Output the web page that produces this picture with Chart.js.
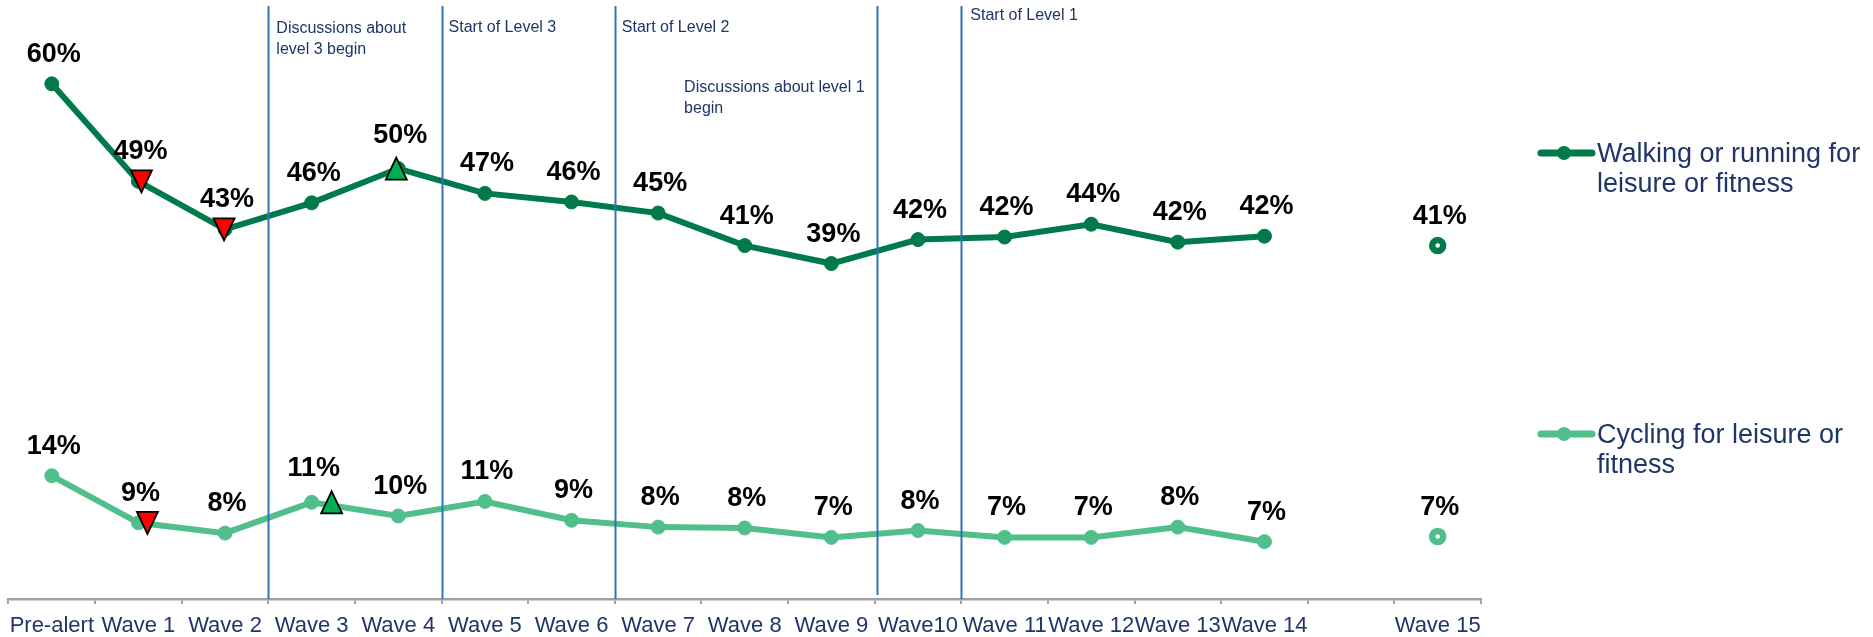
<!DOCTYPE html>
<html>
<head>
<meta charset="utf-8">
<title>Leisure activity by wave</title>
<script src="https://cdn.jsdelivr.net/npm/chart.js@4.4.1/dist/chart.umd.min.js"></script>
<style>
  html, body { margin: 0; padding: 0; background: #ffffff; }
  canvas { display: block; }
</style>
</head>
<body>
<canvas id="waveChart" width="1873" height="637"></canvas>
<script>
// Categories (empty slot between Wave 14 and Wave 15)
const waves = ['Pre-alert', 'Wave 1', 'Wave 2', 'Wave 3', 'Wave 4', 'Wave 5', 'Wave 6', 'Wave 7',
  'Wave 8', 'Wave 9', 'Wave10', 'Wave 11', 'Wave 12', 'Wave 13', 'Wave 14', '', 'Wave 15'];

// Percentages
const walking = [60.2, 48.8, 43.2, 46.3, 50.3, 47.4, 46.4, 45.1, 41.3, 39.2, 42.0, 42.3, 43.8, 41.7, 42.4, null, 41.3];
const cycling = [14.4, 8.9, 7.7, 11.3, 9.7, 11.4, 9.2, 8.4, 8.3, 7.2, 8.0, 7.2, 7.2, 8.4, 6.7, null, 7.3];

// Significant change vs previous wave
const walkingChange = [null, 'down', 'down', null, 'up', null, null, null, null, null, null, null, null, null, null, null, null];
const cyclingChange = [null, 'down', null, 'up', null, null, null, null, null, null, null, null, null, null, null, null, null];

// Phase markers (category positions) and their notes
const phaseBreaks = [2.5, 4.5, 6.5, 9.53, 10.5];
const noteText = [
  ['Discussions about', 'level 3 begin'],
  ['Start of Level 3'],
  ['Start of Level 2'],
  ['Discussions about level 1', 'begin'],
  ['Start of Level 1']
];
const noteAt = [2.5, 4.5, 6.5, 7.3, 10.5];

const seriesNames = [['Walking or running for', 'leisure or fitness'], ['Cycling for leisure or', 'fitness']];

const darkGreen = '#007a4a';
const lightGreen = '#50bf8c';
const navy = '#1f3468';
const lastIdx = waves.length - 1;

// layout bits for the overlay drawing
const noteLayout = [
  { dx: 8, y: 33 }, { dx: 7, y: 32 }, { dx: 7, y: 32 }, { dx: 0, y: 92 }, { dx: 9, y: 20 }
];
const changeShift = [{ 1: 3, 2: -1, 4: -2 }, { 1: 9, 3: 20 }];
const legendRows = [153, 434];

function xAt(chart, v) {
  const x = chart.scales.x;
  const step = x.getPixelForValue(1) - x.getPixelForValue(0);
  return x.getPixelForValue(0) + v * step;
}

function triangle(ctx, x, y, dir) {
  const w = 21, h = 22;
  ctx.beginPath();
  if (dir === 'down') {
    ctx.moveTo(x - w / 2, y - h / 2);
    ctx.lineTo(x + w / 2, y - h / 2);
    ctx.lineTo(x, y + h / 2);
  } else {
    ctx.moveTo(x - w / 2, y + h / 2);
    ctx.lineTo(x + w / 2, y + h / 2);
    ctx.lineTo(x, y - h / 2);
  }
  ctx.closePath();
  ctx.fillStyle = dir === 'down' ? '#ff0000' : '#00b050';
  ctx.fill();
  ctx.lineWidth = 1.8;
  ctx.strokeStyle = '#000000';
  ctx.stroke();
}

const overlay = {
  id: 'overlay',
  afterDatasetsDraw(chart) {
    const ctx = chart.ctx;
    const area = chart.chartArea;
    ctx.save();

    // phase lines
    ctx.strokeStyle = '#2e75b6';
    ctx.lineWidth = 2;
    phaseBreaks.forEach((b, i) => {
      const x = Math.round(xAt(chart, b)) + 0.5;
      ctx.beginPath();
      ctx.moveTo(x, 6);
      ctx.lineTo(x, i === 3 ? area.bottom - 4 : area.bottom);
      ctx.stroke();
    });

    // notes
    ctx.fillStyle = navy;
    ctx.font = '16px "Liberation Sans", Arial, sans-serif';
    ctx.textAlign = 'left';
    ctx.textBaseline = 'alphabetic';
    noteText.forEach((lines, i) => {
      const x = xAt(chart, noteAt[i]) + noteLayout[i].dx;
      lines.forEach((t, j) => ctx.fillText(t, x, noteLayout[i].y + j * 21));
    });

    // change markers and value labels
    const changes = [walkingChange, cyclingChange];
    chart.data.datasets.forEach((ds, d) => {
      const meta = chart.getDatasetMeta(d);
      meta.data.forEach((pt, i) => {
        if (ds.data[i] == null) return;
        const c = changes[d][i];
        if (c) triangle(ctx, pt.x + (changeShift[d][i] || 0), pt.y, c);
      });
      ctx.fillStyle = '#000000';
      ctx.font = 'bold 27px "Liberation Sans", Arial, sans-serif';
      ctx.textAlign = 'center';
      meta.data.forEach((pt, i) => {
        const v = ds.data[i];
        if (v == null) return;
        const lift = changes[d][i] === 'up' ? 26 : 22;
        ctx.fillText(Math.round(v) + '%', pt.x + 2, pt.y - lift);
      });
    });

    // legend
    chart.data.datasets.forEach((ds, d) => {
      const y = legendRows[d];
      ctx.strokeStyle = ds.borderColor;
      ctx.lineWidth = 7;
      ctx.lineCap = 'round';
      ctx.beginPath();
      ctx.moveTo(1541, y);
      ctx.lineTo(1592, y);
      ctx.stroke();
      ctx.beginPath();
      ctx.arc(1564, y, 7, 0, Math.PI * 2);
      ctx.fillStyle = ds.borderColor;
      ctx.fill();
      ctx.fillStyle = navy;
      ctx.font = '27px "Liberation Sans", Arial, sans-serif';
      ctx.textAlign = 'left';
      seriesNames[d].forEach((t, j) => ctx.fillText(t, 1597, y + 9 + j * 30));
    });

    ctx.restore();
  }
};

function lineSet(label, data, color) {
  return {
    label: label,
    data: data,
    borderColor: color,
    backgroundColor: color,
    borderWidth: 6,
    tension: 0,
    spanGaps: false,
    pointRadius: c => c.dataIndex === lastIdx ? 5.5 : 7,
    pointBorderWidth: c => c.dataIndex === lastIdx ? 6.5 : 1,
    pointBackgroundColor: c => c.dataIndex === lastIdx ? '#ffffff' : color,
    pointBorderColor: color
  };
}

new Chart(document.getElementById('waveChart').getContext('2d'), {
  type: 'line',
  data: {
    labels: waves,
    datasets: [
      lineSet(seriesNames[0].join(' '), walking, darkGreen),
      lineSet(seriesNames[1].join(' '), cycling, lightGreen)
    ]
  },
  options: {
    responsive: false,
    animation: false,
    events: [],
    layout: { autoPadding: false, padding: { left: 8.5, right: 392, top: 0, bottom: 0 } },
    plugins: {
      legend: { display: false },
      tooltip: { enabled: false }
    },
    scales: {
      x: {
        offset: true,
        grid: {
          offset: true,
          drawOnChartArea: false,
          drawTicks: true,
          tickLength: 5,
          color: '#a0a0a0',
          lineWidth: 2
        },
        border: { color: '#a0a0a0', width: 2.5 },
        ticks: {
          color: navy,
          font: { family: '"Liberation Sans", Arial, sans-serif', size: 22 },
          padding: 9,
          maxRotation: 0,
          autoSkip: false
        },
        afterFit: s => { s.height = 38; }
      },
      y: {
        display: false,
        min: 0,
        max: 70
      }
    }
  },
  plugins: [overlay]
});
</script>
</body>
</html>
